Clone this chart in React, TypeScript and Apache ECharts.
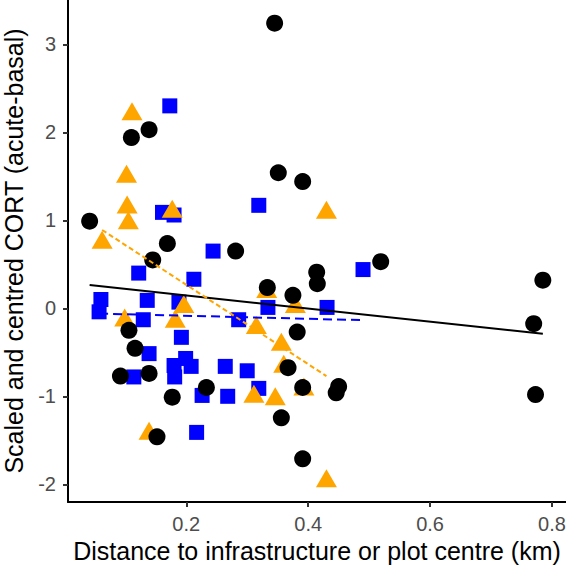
import React, { useEffect, useRef } from "react";
import * as echarts from "echarts";

const circles: number[][] = [
  [0.0415, 0.99], [0.110, 1.94], [0.139, 2.03], [0.169, 0.735], [0.145, 0.55],
  [0.281, 0.65], [0.345, 3.24], [0.351, 1.54], [0.391, 1.44], [0.414, 0.41],
  [0.415, 0.28], [0.519, 0.53], [0.785, 0.32], [0.770, -0.175], [0.773, -0.98],
  [0.333, 0.235], [0.375, 0.148], [0.382, -0.27], [0.367, -0.675], [0.356, -1.245],
  [0.391, -0.90], [0.450, -0.89], [0.446, -0.96], [0.391, -1.71], [0.233, -0.90],
  [0.106, -0.25], [0.116, -0.455], [0.092, -0.77], [0.139, -0.74], [0.177, -1.01],
  [0.152, -1.46],
];

const squares: number[][] = [
  [0.173, 2.30], [0.161, 1.09], [0.180, 1.06], [0.319, 1.17], [0.244, 0.65],
  [0.122, 0.40], [0.2125, 0.33], [0.490, 0.44], [0.431, 0.01], [0.334, 0.01],
  [0.286, -0.13], [0.192, -0.33], [0.060, 0.10], [0.057, -0.04], [0.136, 0.09],
  [0.1295, -0.13], [0.188, 0.07], [0.139, -0.515], [0.114, -0.78], [0.199, -0.57],
  [0.208, -0.66], [0.180, -0.65], [0.181, -0.78], [0.264, -0.66], [0.300, -0.71],
  [0.319, -0.91], [0.268, -1.00], [0.226, -0.99], [0.217, -1.41],
];

const triangles: number[][] = [
  [0.111, 2.24], [0.102, 1.53], [0.103, 1.18], [0.105, 1.00], [0.177, 1.13],
  [0.062, 0.78], [0.430, 1.12], [0.099, -0.105], [0.182, -0.12], [0.196, 0.05],
  [0.332, 0.22], [0.379, 0.05], [0.315, -0.19], [0.356, -0.38], [0.360, -0.63],
  [0.393, -0.89], [0.311, -0.97], [0.346, -1.00], [0.430, -1.93], [0.139, -1.39],
];

const blackFit: number[][] = [[0.0415, 0.265], [0.785, -0.29]];
const blueFit: number[][] = [[0.057, -0.06], [0.490, -0.135]];
const orangeFit: number[][] = [[0.062, 0.89], [0.430, -0.77]];

const xTicks = [0.2, 0.4, 0.6, 0.8];
const yTicks = [-2, -1, 0, 1, 2, 3];

const xTitle = "Distance to infrastructure or plot centre (km)";
const yTitle = "Scaled and centred CORT (acute-basal)";

const FONT = "'Liberation Sans', Arial, sans-serif";

export default function App() {
  const ref = useRef<HTMLDivElement>(null);
  useEffect(() => {
    if (!ref.current) return;
    const chart = echarts.init(ref.current, undefined, { renderer: "svg" });
    const axisCommon = {
      axisLine: { show: true, onZero: false, lineStyle: { color: "#000", width: 2 } },
      axisTick: { show: true, length: 5, lineStyle: { color: "#333", width: 2 } },
      splitLine: { show: false },
      nameTextStyle: { fontFamily: FONT, fontSize: 25, color: "#000" },
    };
    chart.setOption({
      animation: false,
      backgroundColor: "#fff",
      grid: {
        left: 68,
        right: 0,
        top: 0,
        bottom: 63,
        containLabel: false,
        outerBoundsMode: "none",
      },
      xAxis: {
        type: "value",
        min: 0.006,
        max: 0.823,
        name: xTitle,
        nameLocation: "middle",
        nameGap: 36,
        ...axisCommon,
        axisTick: { ...axisCommon.axisTick, customValues: xTicks },
        axisLabel: {
          customValues: xTicks,
          fontFamily: FONT,
          fontSize: 20,
          color: "#4D4D4D",
          margin: 12,
          formatter: (v: number) => v.toFixed(1),
        },
      },
      yAxis: {
        type: "value",
        min: -2.201,
        max: 3.503,
        name: yTitle,
        nameLocation: "middle",
        nameGap: 42,
        nameRotate: 90,
        ...axisCommon,
        axisTick: { ...axisCommon.axisTick, customValues: yTicks },
        axisLabel: {
          customValues: yTicks,
          fontFamily: FONT,
          fontSize: 20,
          color: "#4D4D4D",
          margin: 12,
          formatter: (v: number) => String(v),
        },
      },
      series: [
        {
          type: "scatter",
          data: squares,
          symbol: "rect",
          symbolSize: 15,
          itemStyle: { color: "#0000FF", opacity: 1 },
          z: 2,
        },
        {
          type: "scatter",
          data: triangles,
          symbol: "triangle",
          symbolSize: [21, 18],
          itemStyle: { color: "#FFA500", opacity: 1 },
          z: 3,
        },
        {
          type: "scatter",
          data: circles,
          symbol: "circle",
          symbolSize: 17,
          itemStyle: { color: "#000", opacity: 1 },
          z: 4,
        },
        {
          type: "line",
          data: blackFit,
          symbol: "none",
          lineStyle: { color: "#000", width: 2, type: "solid" },
          z: 5,
        },
        {
          type: "line",
          data: blueFit,
          symbol: "none",
          lineStyle: { color: "#0000FF", width: 2, type: [9, 5] },
          z: 5,
        },
        {
          type: "line",
          data: orangeFit,
          symbol: "none",
          lineStyle: { color: "#FFA500", width: 2, type: [5, 3] },
          z: 5,
        },
      ],
    });
    return () => chart.dispose();
  }, []);
  return (
    <div
      ref={ref}
      style={{ position: "fixed", left: 0, top: 0, width: 566, height: 565, background: "#fff" }}
    />
  );
}
